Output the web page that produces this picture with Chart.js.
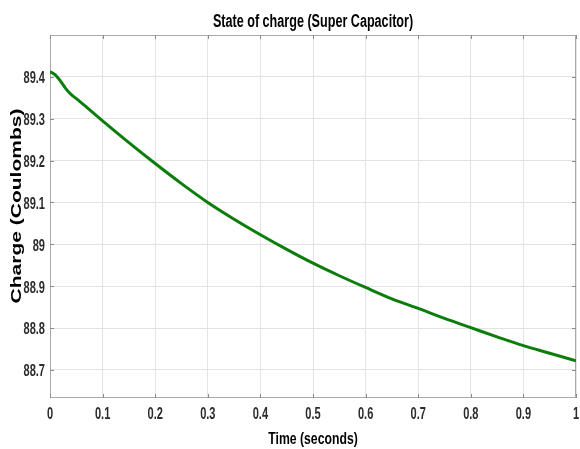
<!DOCTYPE html>
<html>
<head>
<meta charset="utf-8">
<script src="https://cdn.jsdelivr.net/npm/chart.js@4.4.1/dist/chart.umd.min.js"></script>
<style>
  html, body { margin: 0; padding: 0; background: #ffffff; }
  #wrap { width: 580px; height: 449px; }
</style>
</head>
<body>
<div id="wrap"><canvas id="soc" width="580" height="449"></canvas></div>
<script>
// Supercapacitor charge over the first second of the run
const timeValues = [0, 0.01, 0.02, 0.03, 0.04, 0.05, 0.07, 0.1, 0.15, 0.2, 0.25, 0.3, 0.35, 0.4,
  0.45, 0.5, 0.55, 0.6, 0.65, 0.7, 0.75, 0.8, 0.85, 0.9, 0.95, 1.0];
const chargeValues = [89.412, 89.405, 89.39, 89.372, 89.358, 89.348, 89.327, 89.295, 89.243, 89.193,
  89.145, 89.100, 89.060, 89.023, 88.988, 88.955, 88.925, 88.897, 88.870, 88.847, 88.823, 88.801,
  88.779, 88.758, 88.740, 88.722];

const xTickValues = [0, 0.1, 0.2, 0.3, 0.4, 0.5, 0.6, 0.7, 0.8, 0.9, 1];
const yTickValues = [88.7, 88.8, 88.9, 89.0, 89.1, 89.2, 89.3, 89.4];
const xRange = [0, 1];
const yRange = [88.633, 89.5];

const chartTitle = 'State of charge (Super Capacitor)';
const xAxisTitle = 'Time (seconds)';
const yAxisTitle = 'Charge (Coulombs)';

const FONT = "'Liberation Sans', Arial, sans-serif";

function fmt(v) { return String(Number(v.toFixed(2))); }

// Text drawn with a horizontal scale factor around its anchor point
function drawText(ctx, text, x, y, o) {
  ctx.save();
  ctx.translate(x, y);
  if (o.rotate) ctx.rotate(o.rotate);
  ctx.scale(o.sx, 1);
  ctx.font = o.font;
  ctx.fillStyle = o.color;
  ctx.textAlign = o.align || 'center';
  ctx.textBaseline = o.baseline || 'middle';
  ctx.fillText(text, 0, 0);
  ctx.restore();
}

// Box around the axes with short inward tick marks on every side
const axesBox = {
  id: 'axesBox',
  beforeDatasetsDraw(chart) {
    const { ctx, chartArea: a, scales } = chart;
    ctx.save();
    ctx.strokeStyle = '#a9a9a9';
    ctx.lineWidth = 1;
    ctx.strokeRect(Math.round(a.left) + 0.5, Math.round(a.top) + 0.5,
      Math.round(a.right - a.left) - 1, Math.round(a.bottom - a.top) - 1);
    ctx.strokeStyle = '#8a8a8a';
    ctx.beginPath();
    for (const v of yTickValues) {
      const y = Math.round(scales.y.getPixelForValue(v)) + 0.5;
      ctx.moveTo(a.left, y); ctx.lineTo(a.left + 4, y);
      ctx.moveTo(a.right, y); ctx.lineTo(a.right - 4, y);
    }
    for (const v of xTickValues) {
      const x = Math.round(scales.x.getPixelForValue(v)) + 0.5;
      ctx.moveTo(x, a.bottom); ctx.lineTo(x, a.bottom - 4);
      ctx.moveTo(x, a.top); ctx.lineTo(x, a.top + 4);
    }
    ctx.stroke();
    ctx.restore();
  }
};

// Title, axis titles and tick labels in a condensed bold face
const textLayer = {
  id: 'textLayer',
  afterDraw(chart) {
    const { ctx, chartArea: a, scales } = chart;
    const mid = (a.left + a.right) / 2;
    const tickOpts = { font: 'bold 16px ' + FONT, color: '#2b2b2b', sx: 0.69 };

    drawText(ctx, chartTitle, mid, 26.5,
      { font: 'bold 18px ' + FONT, color: '#000000', sx: 0.70, baseline: 'alphabetic' });

    for (const v of yTickValues) {
      drawText(ctx, fmt(v), a.left - 5, scales.y.getPixelForValue(v) + 2,
        Object.assign({ align: 'right' }, tickOpts));
    }
    for (const v of xTickValues) {
      drawText(ctx, fmt(v), scales.x.getPixelForValue(v), a.bottom + 17, tickOpts);
    }

    drawText(ctx, xAxisTitle, mid, 439,
      { font: 'bold 17px ' + FONT, color: '#000000', sx: 0.72 });

    drawText(ctx, yAxisTitle, 17, 206,
      { font: 'bold 14px ' + FONT, color: '#000000', sx: 1.5, rotate: -Math.PI / 2 });
  }
};

new Chart(document.getElementById('soc'), {
  type: 'line',
  data: {
    datasets: [{
      data: timeValues.map((t, i) => ({ x: t, y: chargeValues[i] })),
      borderColor: '#0a7d0a',
      borderWidth: 3,
      pointRadius: 0,
      fill: false,
      cubicInterpolationMode: 'monotone'
    }]
  },
  options: {
    responsive: false,
    animation: false,
    devicePixelRatio: 1,
    layout: { padding: { top: 35, right: 4, bottom: 0, left: 0 } },
    plugins: {
      legend: { display: false },
      tooltip: { enabled: false },
      title: { display: false }
    },
    scales: {
      x: {
        type: 'linear',
        min: xRange[0],
        max: xRange[1],
        afterFit(scale) { scale.height = 51; },
        afterBuildTicks(scale) { scale.ticks = xTickValues.map(v => ({ value: v })); },
        grid: { color: '#e3e3e3', lineWidth: 1, drawTicks: false },
        border: { display: false },
        ticks: { display: false }
      },
      y: {
        type: 'linear',
        min: yRange[0],
        max: yRange[1],
        afterFit(scale) { scale.width = 50; },
        afterBuildTicks(scale) { scale.ticks = yTickValues.map(v => ({ value: v })); },
        grid: { color: '#e3e3e3', lineWidth: 1, drawTicks: false },
        border: { display: false },
        ticks: { display: false }
      }
    }
  },
  plugins: [axesBox, textLayer]
});
</script>
</body>
</html>
